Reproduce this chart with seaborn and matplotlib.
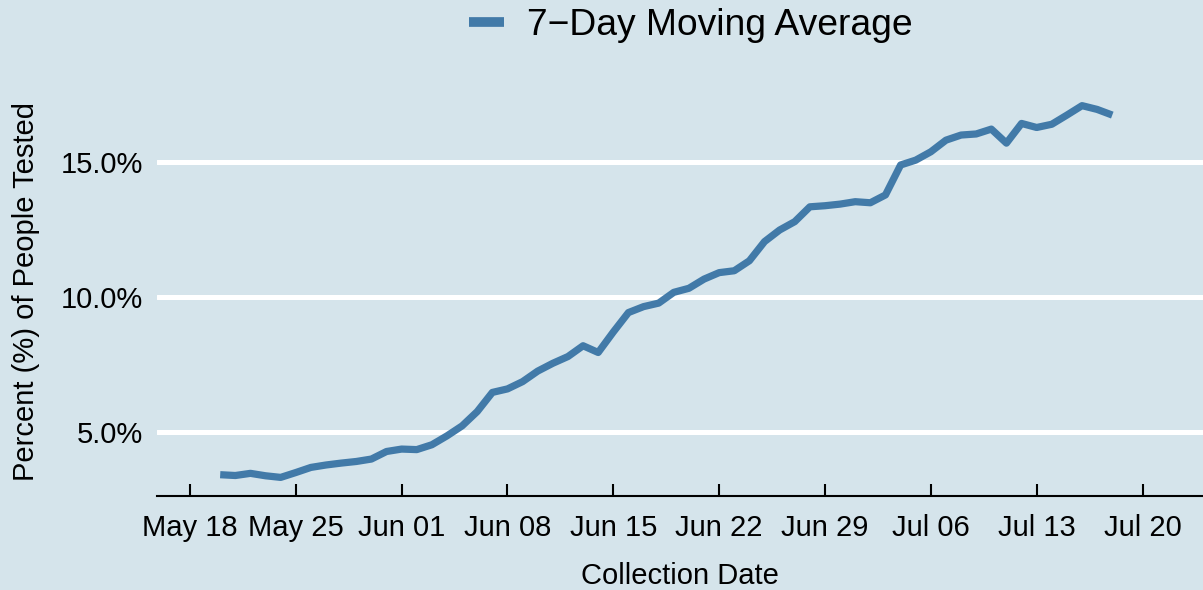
import numpy as np
import pandas as pd
import matplotlib
matplotlib.use("Agg")
import matplotlib.pyplot as plt
import matplotlib.dates as mdates
from matplotlib.ticker import FuncFormatter, FixedLocator
import seaborn as sns

# ---- data ----
start_date = "2020-05-20"
series_name = "7\u2212Day Moving Average"
pct_tested = [3.41, 3.38, 3.46, 3.37, 3.31, 3.49, 3.68, 3.77, 3.84, 3.90,
              3.99, 4.27, 4.36, 4.34, 4.52, 4.85, 5.22, 5.75, 6.46, 6.59,
              6.86, 7.25, 7.54, 7.79, 8.19, 7.94, 8.70, 9.42, 9.64, 9.77,
              10.17, 10.32, 10.66, 10.90, 10.97, 11.34, 12.05, 12.48, 12.79, 13.34,
              13.38, 13.44, 13.53, 13.49, 13.78, 14.89, 15.07, 15.38, 15.81, 16.00,
              16.04, 16.22, 15.70, 16.43, 16.28, 16.40, 16.74, 17.09, 16.95, 16.74]
dates = pd.date_range(start_date, periods=len(pct_tested), freq="D")
x_tick_dates = ["2020-05-18", "2020-05-25", "2020-06-01", "2020-06-08", "2020-06-15",
                "2020-06-22", "2020-06-29", "2020-07-06", "2020-07-13", "2020-07-20"]
y_ticks = [5, 10, 15]

df = pd.DataFrame({"date": dates, "value": pct_tested, "series": series_name})

BG = "#d5e4eb"
LINE = "#3571a3"

sns.set_theme(style="white", rc={"axes.facecolor": BG, "figure.facecolor": BG,
                                 "text.color": "black", "xtick.bottom": True})
plt.rcParams["font.family"] = ["Liberation Sans", "DejaVu Sans"]

fig = plt.figure(figsize=(12.03, 5.90), dpi=100)
ax = fig.add_axes([0.1305, 0.1593, 0.8695, 0.6932])
ax.set_facecolor(BG)

sns.lineplot(data=df, x="date", y="value", hue="series", palette=[LINE],
             linewidth=5.2, alpha=0.92, ax=ax, legend=True)
for ln in ax.get_lines():
    ln.set_solid_capstyle("butt")
    ln.set_solid_joinstyle("round")

ax.set_ylim(2.62, 17.78)
x0 = pd.Timestamp("2020-05-18")
ax.set_xlim(x0 - pd.Timedelta(days=2.18), x0 + pd.Timedelta(days=67.0))

ax.yaxis.set_major_locator(FixedLocator(y_ticks))
ax.yaxis.set_major_formatter(FuncFormatter(lambda v, p: f"{v:.1f}%"))
ax.set_xticks(pd.to_datetime(x_tick_dates))
ax.xaxis.set_major_formatter(mdates.DateFormatter("%b %d"))

ax.grid(False)
ax.yaxis.grid(True, color="white", linewidth=3.6)
ax.set_axisbelow(True)

for s in ["top", "left", "right"]:
    ax.spines[s].set_visible(False)
ax.spines["bottom"].set_color("black")
ax.spines["bottom"].set_linewidth(1.5)

ax.tick_params(axis="x", which="major", bottom=True, direction="in", length=9, width=1.5,
               color="black", labelsize=21, pad=13, labelcolor="black")
ax.tick_params(axis="y", length=0, labelsize=21, pad=10, labelcolor="black")

ax.set_xlabel("Collection Date", fontsize=21, labelpad=14.5, color="black")
ax.set_ylabel("Percent (%) of People Tested", fontsize=21, labelpad=15, color="black")

leg = ax.legend(loc="center", bbox_to_anchor=(0.574, 0.957), bbox_transform=fig.transFigure,
                frameon=False, fontsize=26.8, handlelength=0.95, handletextpad=0.6,
                borderaxespad=0)
for t in leg.get_texts():
    t.set_color("black")
for h in leg.legend_handles:
    h.set_linewidth(7)
    h.set_solid_capstyle("butt")

fig.savefig("out.png", dpi=100, facecolor=BG)
